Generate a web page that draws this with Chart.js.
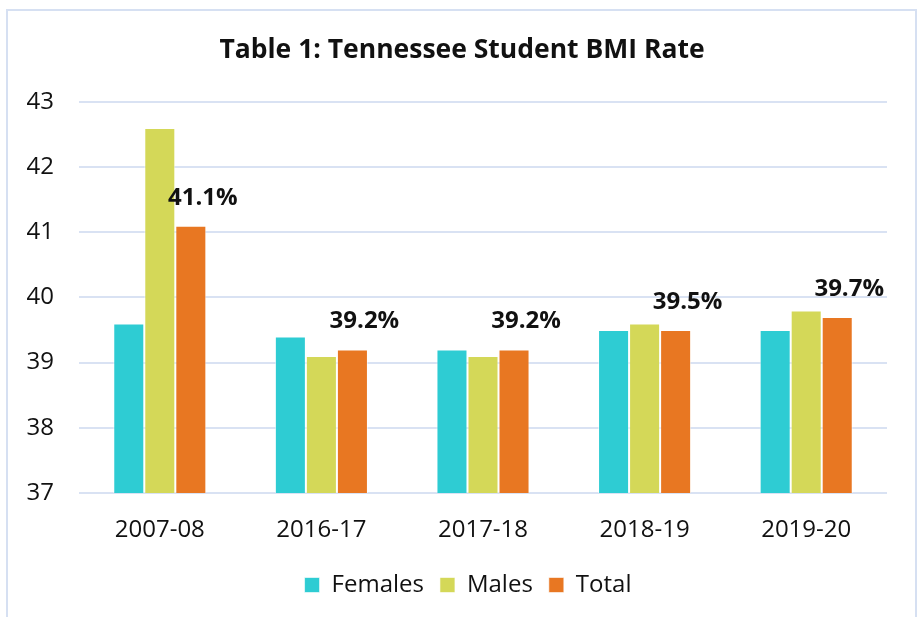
<!DOCTYPE html>
<html lang="en">
<head>
    <meta charset="UTF-8">
    <title>Tennessee Student BMI Rate</title>
    <script src="https://cdn.jsdelivr.net/npm/chart.js"></script>
    <style>
        body {
            margin: 0;
            background: #FFFFFF;
            font-family: 'Open Sans', sans-serif;
        }
        .frame {
            position: absolute;
            left: 6px;
            top: 9px;
            width: 907px;
            height: 640px;
            border: 2px solid #D6E0F2;
        }
        .chart-container {
            position: absolute;
            left: 0;
            top: 0;
            width: 919px;
            height: 617px;
        }
    </style>
</head>
<body>
    <div class="frame"></div>
    <div class="chart-container">
        <canvas id="bmiChart"></canvas>
    </div>

    <script>
        const years = ['2007-08', '2016-17', '2017-18', '2018-19', '2019-20'];
        const females = [39.6, 39.4, 39.2, 39.5, 39.5];
        const males = [42.6, 39.1, 39.1, 39.6, 39.8];
        const total = [41.1, 39.2, 39.2, 39.5, 39.7];

        // percent labels above the Total bars
        const totalLabels = {
            id: 'totalLabels',
            beforeDraw(chart) {
                // title and legend sit a bit right of the plot centre
                chart.titleBlock.left = 37;
                chart.legend.left = 49;
            },
            afterDatasetsDraw(chart) {
                const ctx = chart.ctx;
                const meta = chart.getDatasetMeta(2);
                ctx.save();
                ctx.font = 'bold 24px "Open Sans"';
                ctx.fillStyle = '#111111';
                ctx.textAlign = 'center';
                ctx.textBaseline = 'middle';
                meta.data.forEach((bar, i) => {
                    ctx.fillText(total[i].toFixed(1) + '%', bar.x + 12, bar.y - 28);
                });
                ctx.restore();
            }
        };

        Chart.defaults.font.family = "'Open Sans', sans-serif";
        Chart.defaults.color = '#111111';

        const ctx = document.getElementById('bmiChart').getContext('2d');
        new Chart(ctx, {
            type: 'bar',
            data: {
                labels: years,
                datasets: [{
                    label: 'Females',
                    data: females,
                    backgroundColor: '#2ECCD3',
                    borderColor: 'rgba(255,255,255,0.6)',
                    borderWidth: 1
                }, {
                    label: 'Males',
                    data: males,
                    backgroundColor: '#D4D858',
                    borderColor: 'rgba(255,255,255,0.6)',
                    borderWidth: 1
                }, {
                    label: 'Total',
                    data: total,
                    backgroundColor: '#E87722',
                    borderColor: 'rgba(255,255,255,0.6)',
                    borderWidth: 1
                }]
            },
            options: {
                responsive: true,
                maintainAspectRatio: false,
                animation: false,
                layout: {
                    padding: { left: 0, right: 32, top: 0, bottom: 10 }
                },
                datasets: {
                    bar: {
                        barPercentage: 1,
                        categoryPercentage: 0.576
                    }
                },
                scales: {
                    x: {
                        grid: { display: false, drawTicks: false },
                        border: { display: false },
                        ticks: {
                            padding: 23,
                            font: { size: 24 },
                            color: '#111111'
                        },
                        afterFit(scale) { scale.height = 64; }
                    },
                    y: {
                        min: 37,
                        max: 43,
                        grid: { color: '#D9E2F3', lineWidth: 2, drawTicks: false },
                        border: { display: false },
                        ticks: {
                            stepSize: 1,
                            padding: 25,
                            font: { size: 24 },
                            color: '#111111'
                        },
                        afterFit(scale) { scale.width = 79; }
                    }
                },
                plugins: {
                    title: {
                        display: true,
                        text: 'Table 1: Tennessee Student BMI Rate',
                        font: { size: 26.5, weight: 'bold' },
                        color: '#111111',
                        padding: { top: 35, bottom: 35 }
                    },
                    legend: {
                        position: 'bottom',
                        labels: {
                            boxWidth: 15,
                            boxHeight: 15,
                            padding: 16,
                            font: { size: 24 },
                            color: '#111111'
                        }
                    },
                    tooltip: { enabled: false }
                }
            },
            plugins: [totalLabels]
        });
    </script>
</body>
</html>
